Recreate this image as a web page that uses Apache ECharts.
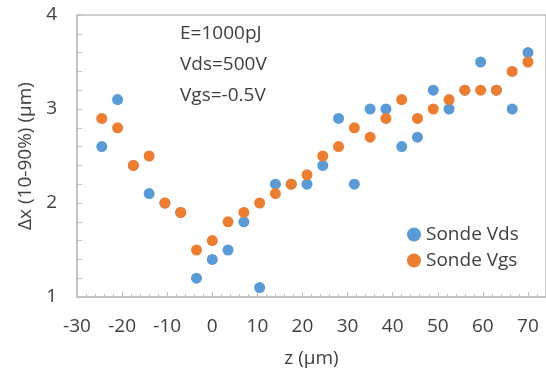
<!DOCTYPE html>
<html>
<head>
<meta charset="utf-8">
<script src="https://cdn.jsdelivr.net/npm/echarts@6/dist/echarts.min.js"></script>
<style>
  html, body { margin: 0; padding: 0; background: #fff; }
  #chart { width: 546px; height: 378px; }
</style>
</head>
<body>
<div id="chart"></div>
<script>
const zPos = [-24.5, -21, -17.5, -14, -10.5, -7, -3.5, 0, 3.5, 7, 10.5, 14, 17.5, 21,
  24.5, 28, 31.5, 35, 38.5, 42, 45.5, 49, 52.5, 56, 59.5, 63, 66.5, 70]
const sondeVds = [2.6, 3.1, 2.4, 2.1, 2.0, 1.9, 1.2, 1.4, 1.5, 1.8, 1.1, 2.2, 2.2, 2.2,
  2.4, 2.9, 2.2, 3.0, 3.0, 2.6, 2.7, 3.2, 3.0, 3.2, 3.5, 3.2, 3.0, 3.6]
const sondeVgs = [2.9, 2.8, 2.4, 2.5, 2.0, 1.9, 1.5, 1.6, 1.8, 1.9, 2.0, 2.1, 2.2, 2.3,
  2.5, 2.6, 2.8, 2.7, 2.9, 3.1, 2.9, 3.0, 3.1, 3.2, 3.2, 3.2, 3.4, 3.5]
const notes = ['E=1000pJ', 'Vds=500V', 'Vgs=-0.5V']

const font = 'Open Sans, Liberation Sans, sans-serif'
const gray = '#bfbfbf'
const textCol = '#404040'
const fs = 19

const chart = echarts.init(document.getElementById('chart'))
chart.setOption({
  animation: false,
  grid: { left: 77, top: 15, width: 472, bottom: 81, show: true, borderColor: gray, borderWidth: 1.5, backgroundColor: 'transparent' },
  xAxis: {
    type: 'value', min: -30, max: 74, interval: 10,
    name: 'z (µm)', nameLocation: 'middle', nameGap: 52,
    nameTextStyle: { fontSize: fs, color: textCol, fontFamily: font },
    axisLine: { onZero: false, lineStyle: { color: gray, width: 1.5 } },
    axisTick: { show: true, inside: true, length: 5, lineStyle: { color: gray } },
    minorTick: { show: true, splitNumber: 5, length: 3, lineStyle: { color: gray } },
    axisLabel: { margin: 20, fontSize: fs, color: textCol, fontFamily: font, showMaxLabel: false },
    splitLine: { show: false }
  },
  yAxis: {
    type: 'value', min: 1, max: 4, interval: 1,
    name: 'Δx (10-90%) (µm)', nameLocation: 'middle', nameGap: 42,
    nameTextStyle: { fontSize: fs, color: textCol, fontFamily: font },
    axisLine: { show: true, onZero: false, lineStyle: { color: gray, width: 1.5 } },
    axisTick: { show: true, inside: true, length: 5, lineStyle: { color: gray } },
    minorTick: { show: true, splitNumber: 5, length: 5, lineStyle: { color: gray } },
    axisLabel: { margin: 20, fontSize: fs, color: textCol, fontFamily: font },
    splitLine: { show: false }
  },
  legend: {
    orient: 'vertical', left: 402, top: 220, itemGap: 7,
    itemWidth: 14, itemHeight: 14,
    textStyle: { fontSize: fs, color: textCol, fontFamily: font },
    data: [{ name: 'Sonde Vds', icon: 'circle' }, { name: 'Sonde Vgs', icon: 'circle' }]
  },
  graphic: notes.map((t, i) => ({
    type: 'text', left: 180, top: 24 + i * 31,
    style: { text: t, fontSize: fs, fill: textCol, fontFamily: font }
  })),
  series: [
    {
      name: 'Sonde Vds', type: 'scatter', symbolSize: 11,
      itemStyle: { color: '#5b9bd5', opacity: 1 },
      data: zPos.map((z, i) => [z, sondeVds[i]])
    },
    {
      name: 'Sonde Vgs', type: 'scatter', symbolSize: 11,
      itemStyle: { color: '#ed7d31', opacity: 1 },
      data: zPos.map((z, i) => [z, sondeVgs[i]])
    }
  ]
})
</script>
</body>
</html>
